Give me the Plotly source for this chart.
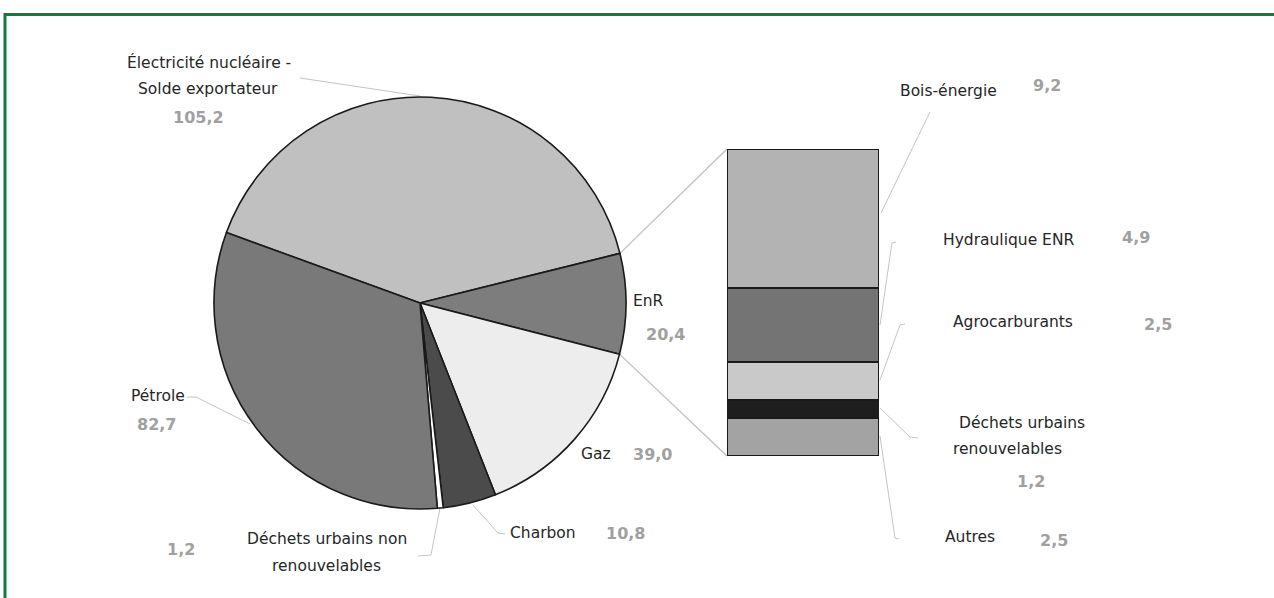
import math
import plotly.graph_objects as go

W, H = 1274, 598

# Consommation d'énergie primaire par source (Mtep)
pie_labels = ["Électricité nucléaire - Solde exportateur", "EnR", "Gaz", "Charbon",
              "Déchets urbains non renouvelables", "Pétrole"]
pie_values = [105.2, 20.4, 39.0, 10.8, 1.2, 82.7]

# Détail des énergies renouvelables (EnR)
enr_labels = ["Bois-énergie", "Hydraulique ENR", "Agrocarburants",
              "Déchets urbains renouvelables", "Autres"]
enr_values = [9.2, 4.9, 2.5, 1.2, 2.5]

pie_colors = ["#c0c0c0", "#7d7d7d", "#ededed", "#4b4b4b", "#ffffff", "#797979"]
enr_colors = ["#b3b3b3", "#747474", "#c9c9c9", "#1e1e1e", "#a3a3a3"]

# Geometry (pixels)
PIE_CX, PIE_CY, PIE_R = 420, 303, 206
PIE_ROT = -70
BAR_X0, BAR_X1, BAR_TOP, BAR_BOT = 727, 879, 149, 456


def px(x):
    return x / W


def py(y):
    return 1 - y / H


def fmt(v):
    return f"{v:.1f}".replace(".", ",")


fig = go.Figure()

fig.add_trace(go.Pie(
    labels=pie_labels, values=pie_values, sort=False, direction="clockwise",
    rotation=PIE_ROT, textinfo="none", hoverinfo="label+value",
    marker=dict(colors=pie_colors, line=dict(color="#1a1a1a", width=1.6)),
    domain=dict(x=[px(PIE_CX - PIE_R), px(PIE_CX + PIE_R)],
                y=[py(PIE_CY + PIE_R), py(PIE_CY - PIE_R)]),
    showlegend=False,
))

# Stacked column detailing the EnR slice (bottom segment first)
for lbl, val, col in reversed(list(zip(enr_labels, enr_values, enr_colors))):
    fig.add_trace(go.Bar(
        x=[0], y=[val], width=1, name=lbl, showlegend=False,
        marker=dict(color=col, line=dict(color="#1a1a1a", width=1.6)),
        hoverinfo="name+y",
    ))

shapes = []


def poly(points, color="#c4c4c4", width=1, layer="below"):
    d = "M " + " L ".join(f"{px(x):.5f},{py(y):.5f}" for x, y in points)
    shapes.append(dict(type="path", path=d, xref="paper", yref="paper",
                       line=dict(color=color, width=width), layer=layer))


# Connectors from the EnR slice edges to the column corners
total = sum(pie_values)
a0 = PIE_ROT + 360 * pie_values[0] / total
a1 = a0 + 360 * pie_values[1] / total
for ang, by in ((a0, BAR_TOP), (a1, BAR_BOT)):
    r = math.radians(ang)
    sx = PIE_CX + PIE_R * math.sin(r)
    sy = PIE_CY - PIE_R * math.cos(r)
    poly([(sx, sy), (BAR_X0, by)], color="#bdbdbd", width=1.2)

# Label leader lines
poly([(300, 78), (420, 96)])
poly([(187, 397), (196, 397), (250, 424)])
poly([(440, 508), (431, 555), (418, 556)])
poly([(473, 505), (498, 533), (505, 534)])
poly([(930, 112), (881, 213)])
poly([(896, 242), (892, 243), (880, 325)])
poly([(905, 324), (900, 325), (880, 380)])
poly([(880, 408), (910, 437), (918, 438)])
poly([(880, 436), (895, 538), (899, 539)])

# Green frame
poly([(5, H + 5), (5, 14.5), (W + 5, 14.5)], color="#0b7d3e", width=3, layer="above")

LABEL_FONT = dict(family="DejaVu Sans", size=15.5, color="#262626")
VALUE_FONT = dict(family="DejaVu Sans", size=16, color="#a0a0a0", weight="bold")

annotations = []


def text(s, x, y, font):
    annotations.append(dict(text=s, x=px(x), y=py(y), xref="paper", yref="paper",
                            xanchor="center", yanchor="middle", showarrow=False,
                            font=font))


# Pie labels
text("Électricité nucléaire -", 209, 62, LABEL_FONT)
text("Solde exportateur", 208, 89, LABEL_FONT)
text(fmt(pie_values[0]), 198, 118, VALUE_FONT)
text("EnR", 649, 301, LABEL_FONT)
text(fmt(pie_values[1]), 665, 334, VALUE_FONT)
text("Gaz", 596, 454, LABEL_FONT)
text(fmt(pie_values[2]), 652, 454, VALUE_FONT)
text("Charbon", 543, 533, LABEL_FONT)
text(fmt(pie_values[3]), 625, 533, VALUE_FONT)
text("Déchets urbains non", 327, 539, LABEL_FONT)
text("renouvelables", 326, 566, LABEL_FONT)
text(fmt(pie_values[4]), 181, 549, VALUE_FONT)
text("Pétrole", 158, 396, LABEL_FONT)
text(fmt(pie_values[5]), 156, 424, VALUE_FONT)

# Column labels
text("Bois-énergie", 948, 91, LABEL_FONT)
text(fmt(enr_values[0]), 1047, 85, VALUE_FONT)
text("Hydraulique ENR", 1008, 240, LABEL_FONT)
text(fmt(enr_values[1]), 1136, 237, VALUE_FONT)
text("Agrocarburants", 1013, 322, LABEL_FONT)
text(fmt(enr_values[2]), 1158, 324, VALUE_FONT)
text("Déchets urbains", 1022, 423, LABEL_FONT)
text("renouvelables", 1007, 449, LABEL_FONT)
text(fmt(enr_values[3]), 1031, 481, VALUE_FONT)
text("Autres", 970, 537, LABEL_FONT)
text(fmt(enr_values[4]), 1054, 540, VALUE_FONT)

fig.update_layout(
    width=W, height=H, margin=dict(l=0, r=0, t=0, b=0),
    paper_bgcolor="white", plot_bgcolor="rgba(0,0,0,0)",
    barmode="stack", showlegend=False,
    xaxis=dict(domain=[px(BAR_X0), px(BAR_X1)], range=[-0.5, 0.5], visible=False,
               fixedrange=True),
    yaxis=dict(domain=[py(BAR_BOT), py(BAR_TOP)], range=[0, sum(enr_values)],
               visible=False, fixedrange=True),
    shapes=shapes, annotations=annotations,
)

fig.write_html("out.html")
